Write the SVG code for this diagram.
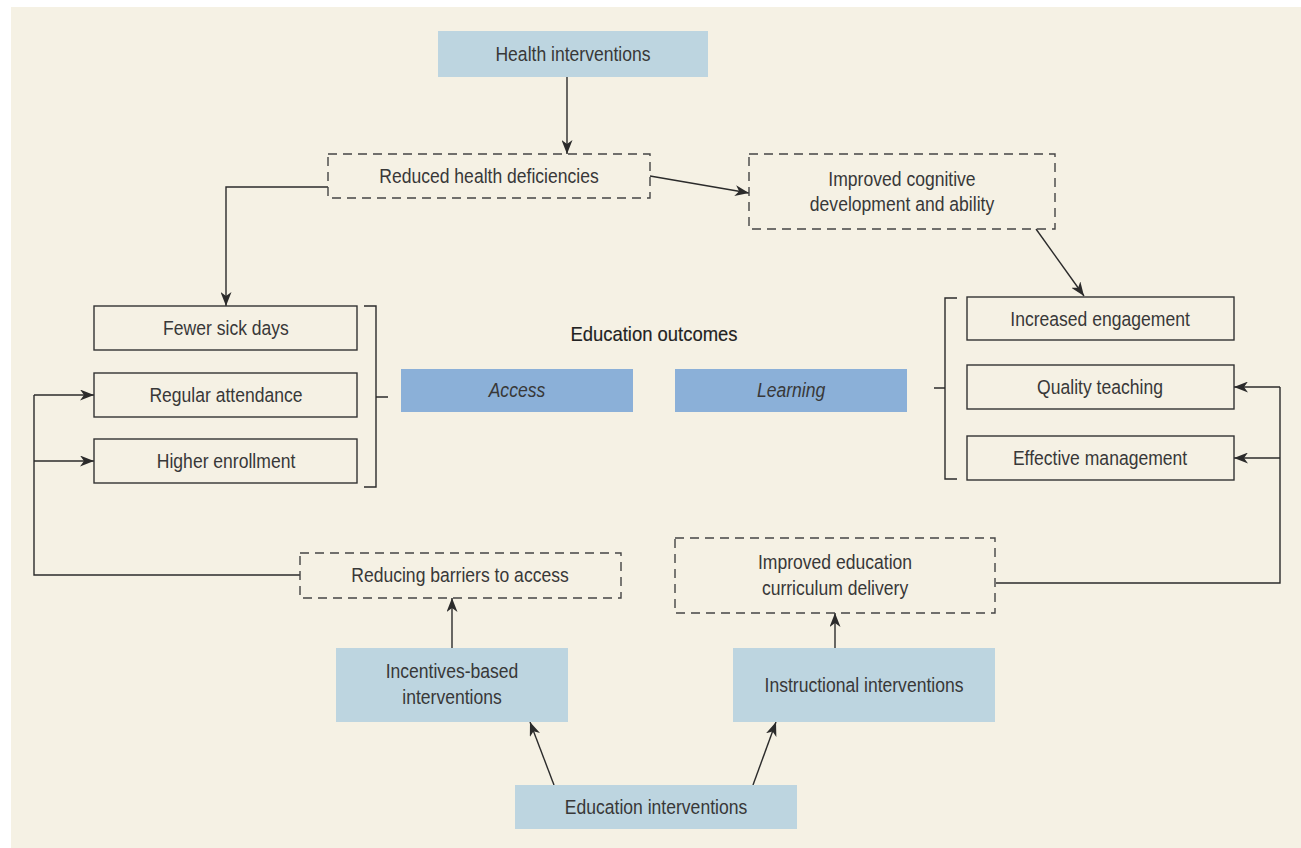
<svg xmlns="http://www.w3.org/2000/svg" width="1301" height="848" viewBox="0 0 1301 848">
<defs>
<marker id="ah" viewBox="0 0 14 11" refX="14" refY="5.5" markerWidth="14" markerHeight="11" markerUnits="userSpaceOnUse" orient="auto">
<path d="M0,0 L14,5.5 L0,11 L4,5.5 z" fill="#2b2b2b"/>
</marker>
<style>
text{font-family:"Liberation Sans",Arial,sans-serif;font-size:19.5px;fill:#383838;text-anchor:middle;dominant-baseline:central;transform-box:fill-box;transform-origin:center;transform:scaleX(0.9)}
.blue{fill:#BDD5E0}
.out{fill:#8BB0D8}
.box{fill:none;stroke:#333;stroke-width:1.4}
.dash{fill:none;stroke:#444;stroke-width:1.4;stroke-dasharray:9 6}
.ln{fill:none;stroke:#2b2b2b;stroke-width:1.4}
.arr{fill:none;stroke:#2b2b2b;stroke-width:1.4;marker-end:url(#ah)}
.it{font-style:italic}
.hd{fill:#222;font-size:20.5px;stroke:#222;stroke-width:0.15}
</style>
</defs>
<rect x="11" y="7" width="1290" height="841" fill="#F5F1E4"/>

<g id="connectors">
<path class="arr" d="M567,77 V154"/>
<path class="arr" d="M328,187 H226 V306"/>
<path class="arr" d="M650,176 L749,193"/>
<path class="arr" d="M1036,229 L1084,296"/>
<path class="ln" d="M300,575 H34 V395"/>
<path class="arr" d="M34,395 H94"/>
<path class="arr" d="M34,461 H94"/>
<path class="ln" d="M996,583 H1280 V387"/>
<path class="arr" d="M1280,387 H1234"/>
<path class="arr" d="M1280,458 H1234"/>
<path class="arr" d="M452,648 V598"/>
<path class="arr" d="M835,648 V613"/>
<path class="arr" d="M554,785 L530,722"/>
<path class="arr" d="M753,785 L776,722"/>
<path class="ln" d="M364,306 H376 V487 H364 M376,397 H388"/>
<path class="ln" d="M957,298 H945 V479 H957 M945,388 H934"/>
</g>

<g id="health">
<rect class="blue" x="438" y="31" width="270" height="46"/>
<text x="573" y="54">Health interventions</text>
</g>
<g id="reduced">
<rect class="dash" x="328" y="154" width="322" height="44"/>
<text x="489" y="176">Reduced health deficiencies</text>
</g>
<g id="cognitive">
<rect class="dash" x="749" y="154" width="306" height="75"/>
<text x="902" y="179">Improved cognitive</text>
<text x="902" y="204">development and ability</text>
</g>
<g id="fewer">
<rect class="box" x="94" y="306" width="263" height="44"/>
<text x="226" y="328">Fewer sick days</text>
</g>
<g id="regular">
<rect class="box" x="94" y="373" width="263" height="44"/>
<text x="226" y="395">Regular attendance</text>
</g>
<g id="higher">
<rect class="box" x="94" y="439" width="263" height="44"/>
<text x="226" y="461">Higher enrollment</text>
</g>
<g id="outcomes">
<text class="hd" x="654" y="334">Education outcomes</text>
</g>
<g id="access">
<rect class="out" x="401" y="369" width="232" height="43"/>
<text class="it" x="517" y="390">Access</text>
</g>
<g id="learning">
<rect class="out" x="675" y="369" width="232" height="43"/>
<text class="it" x="791" y="390">Learning</text>
</g>
<g id="engagement">
<rect class="box" x="967" y="297" width="267" height="43"/>
<text x="1100" y="319">Increased engagement</text>
</g>
<g id="quality">
<rect class="box" x="967" y="365" width="267" height="44"/>
<text x="1100" y="387">Quality teaching</text>
</g>
<g id="management">
<rect class="box" x="967" y="436" width="267" height="44"/>
<text x="1100" y="458">Effective management</text>
</g>
<g id="barriers">
<rect class="dash" x="300" y="553" width="321" height="45"/>
<text x="460" y="575">Reducing barriers to access</text>
</g>
<g id="curriculum">
<rect class="dash" x="675" y="538" width="320" height="75"/>
<text x="835" y="562">Improved education</text>
<text x="835" y="588">curriculum delivery</text>
</g>
<g id="incentives">
<rect class="blue" x="336" y="648" width="232" height="74"/>
<text x="452" y="671">Incentives-based</text>
<text x="452" y="697">interventions</text>
</g>
<g id="instructional">
<rect class="blue" x="733" y="648" width="262" height="74"/>
<text x="864" y="685">Instructional interventions</text>
</g>
<g id="education">
<rect class="blue" x="515" y="785" width="282" height="44"/>
<text x="656" y="807">Education interventions</text>
</g>
</svg>
